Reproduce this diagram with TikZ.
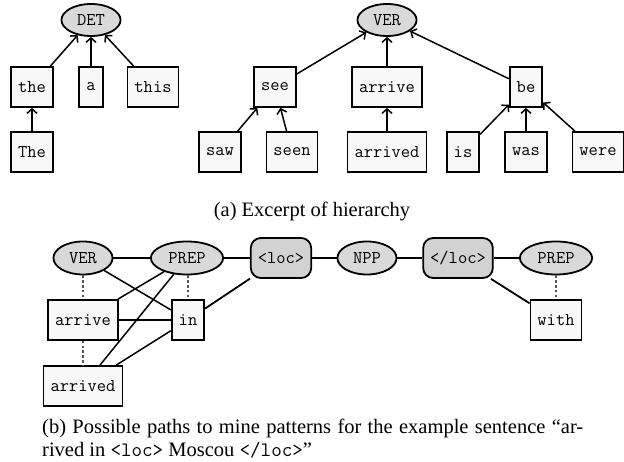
\documentclass[tikz,border=0pt]{standalone}
\usepackage{fontspec}
\setmainfont{Liberation Serif}
\usetikzlibrary{shapes.geometric,arrows.meta}
\definecolor{catfill}{HTML}{D9D9D9}
\definecolor{tagfill}{HTML}{D2D2D2}
\definecolor{boxfill}{HTML}{F8F8F8}
\definecolor{dotcol}{HTML}{555555}
\newcommand{\nodefont}{\fontsize{18}{18}\selectfont\ttfamily}
\newcommand{\capfont}{\fontsize{20.5}{23}\selectfont}
\begin{document}
\begin{tikzpicture}[x=1pt,y=-1pt,
  wbox/.style={draw, line width=1.8pt, fill=boxfill, inner xsep=7pt, inner ysep=0pt,
    minimum height=40pt, font=\nodefont},
  cat/.style={ellipse, draw, line width=1.8pt, fill=catfill, inner xsep=7pt, inner ysep=0pt,
    minimum height=32pt, font=\nodefont},
  tag/.style={draw, line width=1.8pt, fill=tagfill, rounded corners=10pt, inner xsep=7pt,
    inner ysep=0pt, minimum height=40pt, font=\nodefont},
  arr/.style={line width=1.5pt, -{Straight Barb[length=4.5pt,width=10pt]}},
  link/.style={line width=1.5pt},
  heavylink/.style={line width=2.2pt},
  dots/.style={line width=2.6pt, dotcol, dash pattern=on 2.6pt off 2.2pt}
]
\useasboundingbox (0,0) rectangle (624,462);

% ---------- (a) ----------
\node[cat] (DET) at (91,20) {DET};
\node[wbox] (the) at (32,87) {the};
\node[wbox] (a) at (91,87) {a};
\node[wbox] (this) at (153,87) {this};
\node[wbox] (The) at (32,152) {The};

\node[cat] (VER) at (387,20) {VER};
\node[wbox] (see) at (275,87) {see};
\node[wbox] (saw) at (220,152) {saw};
\node[wbox] (seen) at (292,152) {seen};
\node[wbox] (arrive) at (387,87) {arrive};
\node[wbox] (arrived) at (387,152) {arrived};
\node[wbox] (be) at (526,87) {be};
\node[wbox] (is) at (463,152) {is};
\node[wbox] (was) at (526,152) {was};
\node[wbox] (were) at (598,152) {were};

\draw[arr] (the) -- (DET);
\draw[arr] (a) -- (DET);
\draw[arr] (this) -- (DET);
\draw[arr] (The) -- (the);
\draw[arr] (see) -- (VER);
\draw[arr] (arrive) -- (VER);
\draw[arr] (be) -- (VER);
\draw[arr] (saw) -- (see);
\draw[arr] (seen) -- (see);
\draw[arr] (arrived) -- (arrive);
\draw[arr] (is) -- (be);
\draw[arr] (was) -- (be);
\draw[arr] (were) -- (be);

\node[font=\capfont, anchor=base] (capa) at (312,217) {(a) Excerpt of hierarchy};

% ---------- (b) ----------
\node[cat, minimum height=33pt] (bVER) at (83,258) {VER};
\node[cat, minimum height=33pt] (bPREP) at (187,258) {PREP};
\node[tag] (loc) at (281,258) {<loc>};
\node[cat, minimum height=33pt] (NPP) at (367,258) {NPP};
\node[tag] (eloc) at (458,258) {</loc>};
\node[cat, minimum height=33pt] (cPREP) at (556,258) {PREP};

\node[wbox] (barrive) at (83,320) {arrive};
\node[wbox] (in) at (188,320) {in};
\node[wbox] (with) at (556,320) {with};
\node[wbox] (barrived) at (83,386) {arrived};

\draw[link] (bVER) -- (bPREP);
\draw[link] (bPREP) -- (loc);
\draw[heavylink] (loc) -- (NPP);
\draw[heavylink] (NPP) -- (eloc);
\draw[link] (eloc) -- (cPREP);

\draw[dots] (bVER) -- (barrive);
\draw[dots] (barrive) -- (barrived);
\draw[dots] (bPREP.south -| in) -- (in);
\draw[dots] (cPREP) -- (with);

\draw[link] (bVER) -- (in);
\draw[link] (bPREP) -- (barrive);
\draw[link] (bPREP) -- (barrived);
\draw[heavylink] (barrive) -- (in);
\draw[link] (in) -- (barrived);
\draw[line width=1.8pt] (in) -- (loc);
\draw[line width=1.8pt] (eloc) -- (with);

\node[font=\capfont, text width=541pt, align=justify, anchor=base west, inner sep=0pt] (capb) at (42,433)
  {(b) Possible paths to mine patterns for the example sentence “ar-\linebreak
   rived in \texttt{<loc>} Moscou \texttt{</loc>}”};
\end{tikzpicture}
\end{document}
